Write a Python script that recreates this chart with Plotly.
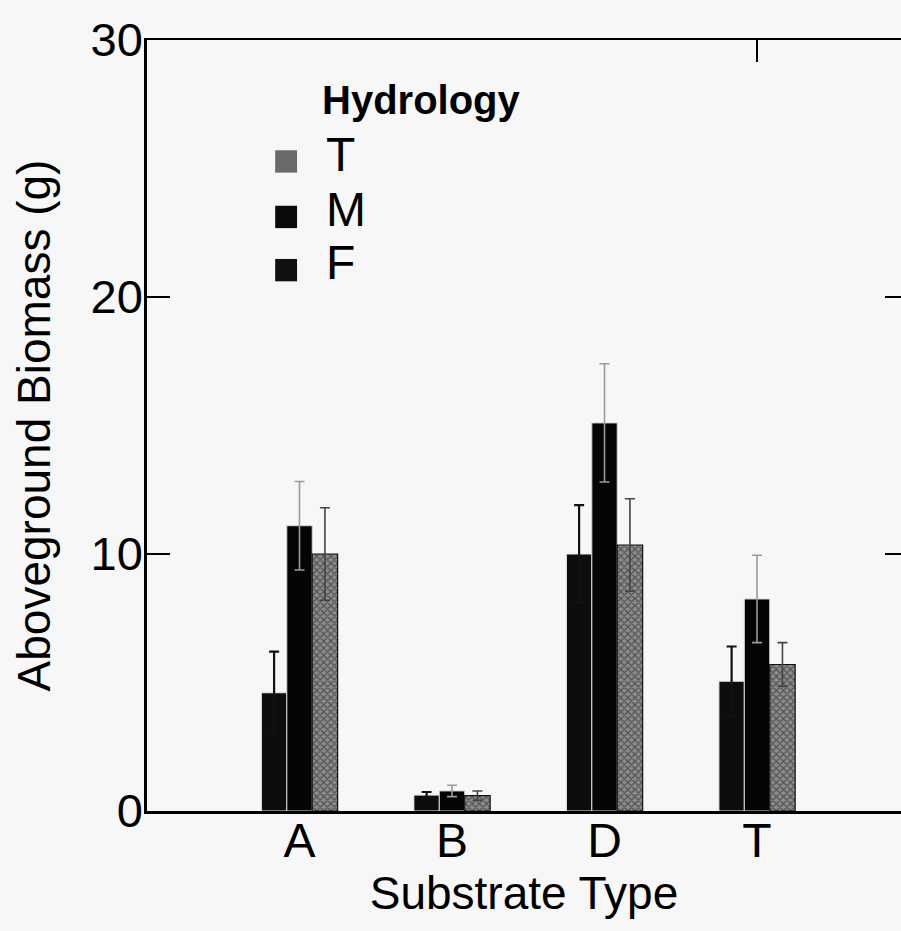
import plotly.graph_objects as go

categories = ["A", "B", "D", "T"]
hydrology = ["F", "M", "T"]

F_vals = [4.6, 0.62, 10.0, 5.05]
F_err = [1.6, 0.12, 1.9, 1.35]
M_vals = [11.1, 0.78, 15.1, 8.25]
M_err = [1.72, 0.22, 2.3, 1.7]
T_vals = [10.0, 0.6, 10.35, 5.7]
T_err = [1.8, 0.18, 1.8, 0.85]

y_ticks = [0, 10, 20, 30]
right_ticks = [10, 20]

BG = "#f7f7f7"
FONT = "Liberation Sans, Arial, sans-serif"

fig = go.Figure()
fig.add_trace(go.Bar(
    name="F", x=categories, y=F_vals,
    marker=dict(color="#0d0d0d", line=dict(color="#e8e8e8", width=1)),
    error_y=dict(type="data", array=F_err, visible=True, color="#111111", thickness=2.2, width=5),
    showlegend=False,
))
fig.add_trace(go.Bar(
    name="M", x=categories, y=M_vals,
    marker=dict(color="#050505", line=dict(color="#d8d8d8", width=1)),
    error_y=dict(type="data", array=M_err, visible=True, color="#9a9a9a", thickness=1.6, width=5),
    showlegend=False,
))
fig.add_trace(go.Bar(
    name="T", x=categories, y=T_vals,
    marker=dict(color="#5a5a5a", line=dict(color="#111111", width=1.2),
                pattern=dict(shape="x", fgcolor="#1a1a1a", bgcolor="#8c8c8c", size=5, solidity=0.45)),
    error_y=dict(type="data", array=T_err, visible=True, color="#444444", thickness=1.6, width=5),
    showlegend=False,
))
# empty trace so the mirrored frame axes (top line / right ticks) are drawn
fig.add_trace(go.Scatter(x=[], y=[], xaxis="x2", yaxis="y2", showlegend=False, hoverinfo="skip"))

fig.update_layout(
    width=901, height=931,
    margin=dict(l=147, r=0, t=40, b=120),
    paper_bgcolor=BG, plot_bgcolor=BG,
    barmode="group", bargap=0.5, bargroupgap=0,
    font=dict(family=FONT, color="black"),
    showlegend=False,
    xaxis=dict(
        range=[-1, 3.944], showline=True, linecolor="black", linewidth=2.5,
        ticks="", tickfont=dict(size=48), ticklabelstandoff=-14,
        title=dict(text="Substrate Type", font=dict(size=46), standoff=0),
        showgrid=False, zeroline=False,
    ),
    xaxis2=dict(
        range=[-1, 3.944], overlaying="x", side="top", anchor="y2",
        showline=True, linecolor="black", linewidth=2,
        tickmode="array", tickvals=[3], ticktext=[""], ticks="inside", ticklen=22, tickwidth=2,
        tickcolor="black", showticklabels=False, showgrid=False, zeroline=False,
    ),
    yaxis=dict(
        range=[0, 30], showline=True, linecolor="black", linewidth=2.5,
        tickmode="array", tickvals=y_ticks, ticks="inside", ticklen=23, tickwidth=2, tickcolor="black",
        tickfont=dict(size=47), ticklabelstandoff=-8,
        title=dict(text="Aboveground Biomass (g)", font=dict(size=46), standoff=26),
        showgrid=False, zeroline=False,
    ),
    yaxis2=dict(
        range=[0, 30], overlaying="y", side="right", anchor="x2",
        showline=False, tickmode="array", tickvals=right_ticks, ticks="inside", ticklen=16, tickwidth=2,
        tickcolor="black", showticklabels=False, showgrid=False, zeroline=False,
    ),
)

# Legend drawn as text + swatches
legend_items = [("T", "#6a6a6a"), ("M", "#0a0a0a"), ("F", "#111111")]
fig.add_annotation(text="<b>Hydrology</b>", xref="paper", yref="paper", x=0.229, y=0.922,
                   xanchor="left", yanchor="middle", showarrow=False, font=dict(size=40, family=FONT))
row_y = [0.852, 0.780, 0.711]
for (lab, col), yy in zip(legend_items, row_y):
    fig.add_annotation(text=lab, xref="paper", yref="paper", x=0.235, y=yy,
                       xanchor="left", yanchor="middle", showarrow=False, font=dict(size=48, family=FONT))
    fig.add_shape(type="rect", xref="paper", yref="paper", x0=0.170, x1=0.199,
                  y0=yy - 0.024, y1=yy + 0.005, fillcolor=col, line=dict(width=0))

fig.write_html("out.html")
